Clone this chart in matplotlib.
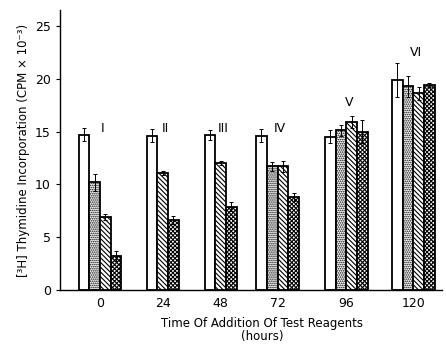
import matplotlib.pyplot as plt
import numpy as np

# Tijdstip van toevoegen (uren) en groepslabels
hours = [0, 24, 48, 72, 96, 120]
roman = ['I', 'II', 'III', 'IV', 'V', 'VI']

# [3H] thymidine inbouw (CPM x 10^-3), nan = geen staaf in die groep
white = [14.7, 14.6, 14.65, 14.6, 14.5, 19.9]
stippled = [10.2, np.nan, np.nan, 11.7, 15.1, 19.3]
hatched = [6.9, 11.1, 12.0, 11.7, 15.9, 18.6]
crossed = [3.2, 6.6, 7.9, 8.8, 15.0, 19.4]

white_err = [0.6, 0.6, 0.5, 0.6, 0.6, 1.6]
stippled_err = [0.8, np.nan, np.nan, 0.4, 0.55, 1.0]
hatched_err = [0.3, 0.2, 0.2, 0.5, 0.6, 0.6]
crossed_err = [0.5, 0.4, 0.4, 0.4, 1.1, 0.2]

# kleine verschuiving van de groepen zoals in de originele figuur (uren)
nudge = [0, 0, -1.8, -4.0, -1.6, 0]
label_y = [15.3, 15.3, 15.3, 15.3, 17.7, 22.5]

series = [
    (white, white_err, ''),
    (stippled, stippled_err, '........'),
    (hatched, hatched_err, '\\\\\\\\\\\\\\'),
    (crossed, crossed_err, 'xxxxxxxx'),
]

plt.rcParams['hatch.linewidth'] = 0.8
plt.rcParams['font.family'] = ['DejaVu Sans']

fig = plt.figure(figsize=(4.46, 3.44), dpi=100)
ax = fig.add_axes([60 / 446, 54 / 344, 382 / 446, 280 / 344])

bar_w = 4.1

for g, h in enumerate(hours):
    present = [s for s in series if not np.isnan(s[0][g])]
    n = len(present)
    center = h + nudge[g]
    for k, (vals, errs, hatch) in enumerate(present):
        x = center + (k - (n - 1) / 2) * bar_w
        ax.bar(x, vals[g], width=bar_w, color='white', edgecolor='black',
               hatch=hatch, linewidth=1.3, zorder=2)
        ax.errorbar(x, vals[g], yerr=errs[g], color='black', lw=0.7,
                    capsize=1.5, capthick=0.7, zorder=3)
    ax.text(center + 1, label_y[g], roman[g], ha='center', va='center',
            fontsize=9)

ax.set_xlim(-15.3, 131)
ax.set_ylim(0, 26.5)
ax.set_yticks([0, 5, 10, 15, 20, 25])
ax.set_xticks([h + d for h, d in zip(hours, nudge)])
ax.set_xticklabels([str(h) for h in hours])
ax.tick_params(axis='x', length=0, pad=5, labelsize=9)
ax.tick_params(axis='y', length=3, width=0.8, labelsize=9)

for side in ['top', 'right']:
    ax.spines[side].set_visible(False)
for side in ['left', 'bottom']:
    ax.spines[side].set_linewidth(1.0)

fig.text(262 / 446, 1 - 330 / 344, 'Time Of Addition Of Test Reagents\n(hours)',
         ha='center', va='center', fontsize=8.5, linespacing=1.05)
ax.set_ylabel('[³H] Thymidine Incorporation (CPM × 10⁻³)', fontsize=8.5,
              labelpad=4)

fig.savefig('out.png', dpi=100)
